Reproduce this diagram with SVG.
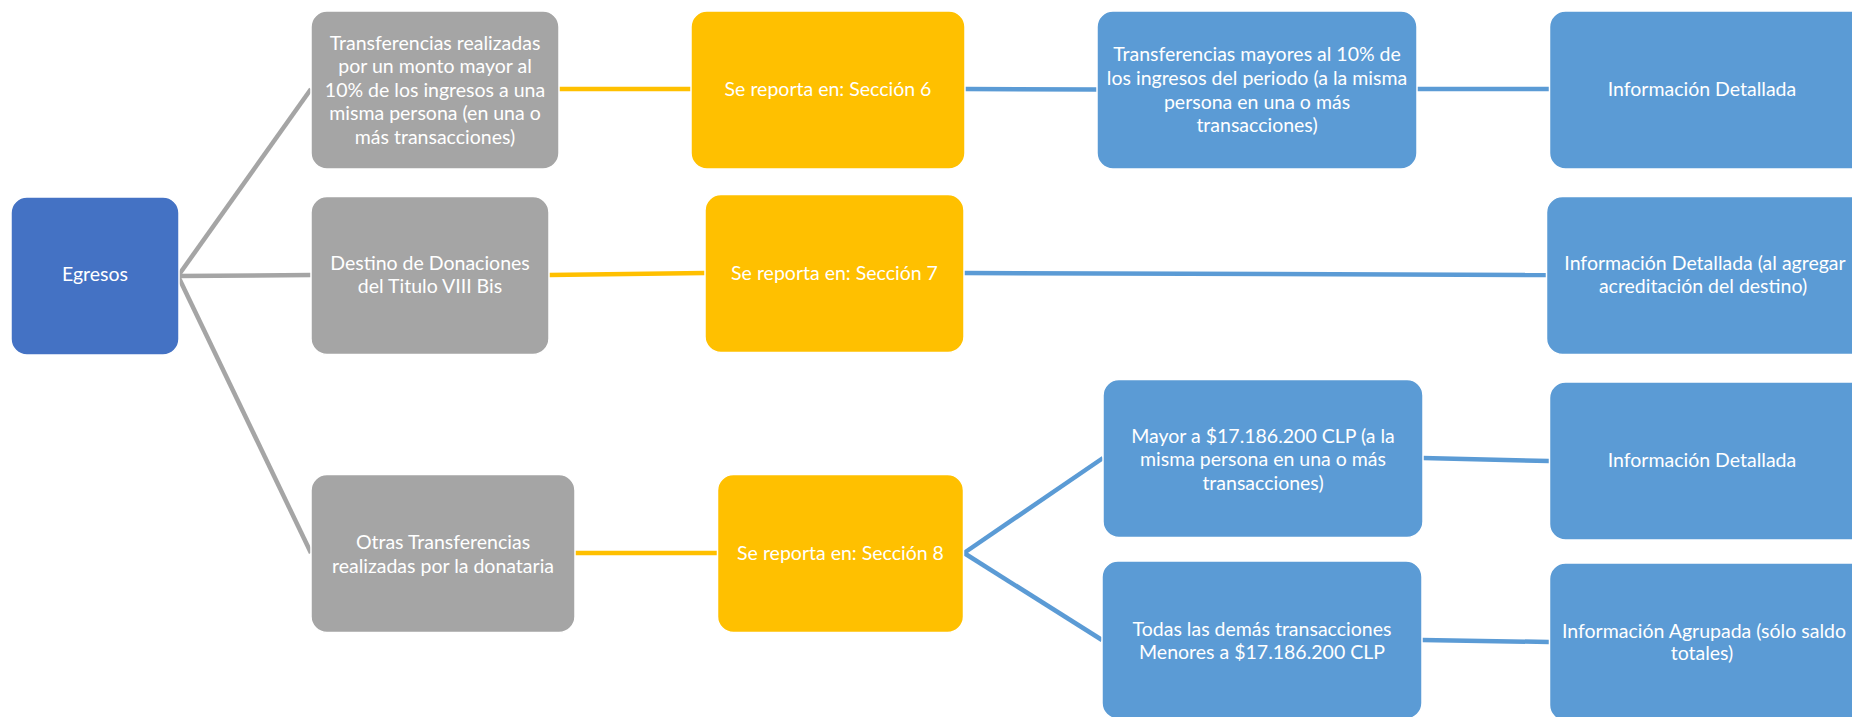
<svg xmlns="http://www.w3.org/2000/svg" width="1852" height="717" viewBox="0 0 1852 717">
<style>
.box{stroke:#ffffff;stroke-width:1.5}
.blue1{fill:#4472C4}
.gray{fill:#A5A5A5}
.yel{fill:#FFC000}
.blue{fill:#5B9BD5}
text{font-family:Lato,"Liberation Sans",sans-serif;font-size:19.5px;fill:#ffffff;text-anchor:middle}
.cg{stroke:#A5A5A5;stroke-width:4.5;fill:none}
.cy{stroke:#FFC000;stroke-width:4.5;fill:none}
.cb{stroke:#5B9BD5;stroke-width:4.5;fill:none}
</style>
<rect width="1852" height="717" fill="#ffffff"/>
<g id="connectors">
<line class="cg" x1="178" y1="276" x2="311" y2="89"/>
<line class="cg" x1="178" y1="276" x2="311" y2="275"/>
<line class="cg" x1="178" y1="276" x2="311" y2="553"/>
<line class="cy" x1="558" y1="89" x2="691" y2="89"/>
<line class="cy" x1="549" y1="275" x2="705" y2="273"/>
<line class="cy" x1="575" y1="553" x2="717" y2="553"/>
<line class="cb" x1="965" y1="89" x2="1097" y2="89.5"/>
<line class="cb" x1="1417" y1="89" x2="1549" y2="89"/>
<line class="cb" x1="964" y1="273" x2="1546" y2="275"/>
<line class="cb" x1="964" y1="553" x2="1103" y2="458"/>
<line class="cb" x1="964" y1="553" x2="1102" y2="640"/>
<line class="cb" x1="1423" y1="458" x2="1549" y2="461"/>
<line class="cb" x1="1422" y1="640" x2="1549" y2="642"/>
</g>
<g id="egresos">
<rect class="box blue1" x="11" y="197" width="168" height="158" rx="16"/>
<text x="95" y="281">Egresos</text>
</g>
<g id="gray1">
<rect class="box gray" x="311" y="11" width="248" height="158" rx="16"/>
<text x="435" y="49.5">Transferencias realizadas</text>
<text x="435" y="73">por un monto mayor al</text>
<text x="435" y="96.5">10% de los ingresos a una</text>
<text x="435" y="120">misma persona (en una o</text>
<text x="435" y="143.5">más transacciones)</text>
</g>
<g id="gray2">
<rect class="box gray" x="311" y="196.5" width="238" height="158" rx="16"/>
<text x="430" y="270">Destino de Donaciones</text>
<text x="430" y="293">del Titulo VIII Bis</text>
</g>
<g id="gray3">
<rect class="box gray" x="311" y="474.5" width="264" height="158" rx="16"/>
<text x="443" y="548.5">Otras Transferencias</text>
<text x="443" y="572.5">realizadas por la donataria</text>
</g>
<g id="yellow1">
<rect class="box yel" x="691" y="11" width="274" height="158" rx="16"/>
<text x="828" y="96">Se reporta en: Sección 6</text>
</g>
<g id="yellow2">
<rect class="box yel" x="705" y="194.5" width="259" height="158" rx="16"/>
<text x="834.5" y="280">Se reporta en: Sección 7</text>
</g>
<g id="yellow3">
<rect class="box yel" x="717.5" y="474.5" width="246" height="158" rx="16"/>
<text x="840.5" y="560">Se reporta en: Sección 8</text>
</g>
<g id="blue1">
<rect class="box blue" x="1097" y="11" width="320" height="158" rx="16"/>
<text x="1257" y="61">Transferencias mayores al 10% de</text>
<text x="1257" y="85">los ingresos del periodo (a la misma</text>
<text x="1257" y="109">persona en una o más</text>
<text x="1257" y="132">transacciones)</text>
</g>
<g id="blue2">
<rect class="box blue" x="1103" y="379.5" width="320" height="158" rx="16"/>
<text x="1263" y="443">Mayor a $17.186.200 CLP (a la</text>
<text x="1263" y="466">misma persona en una o más</text>
<text x="1263" y="490">transacciones)</text>
</g>
<g id="blue3">
<rect class="box blue" x="1102" y="561" width="320" height="158" rx="16"/>
<text x="1262" y="636">Todas las demás transacciones</text>
<text x="1262" y="659">Menores a $17.186.200 CLP</text>
</g>
<g id="right1">
<rect class="box blue" x="1549.5" y="11" width="320" height="158" rx="16"/>
<text x="1702" y="96">Información Detallada</text>
</g>
<g id="right2">
<rect class="box blue" x="1546.5" y="196.5" width="320" height="158" rx="16"/>
<text x="1705" y="270">Información Detallada (al agregar</text>
<text x="1703" y="293">acreditación del destino)</text>
</g>
<g id="right3">
<rect class="box blue" x="1549.5" y="382" width="320" height="158" rx="16"/>
<text x="1702" y="467">Información Detallada</text>
</g>
<g id="right4">
<rect class="box blue" x="1549.5" y="563" width="320" height="158" rx="16"/>
<text x="1704" y="637.5">Información Agrupada (sólo saldo</text>
<text x="1702" y="660">totales)</text>
</g>
</svg>
